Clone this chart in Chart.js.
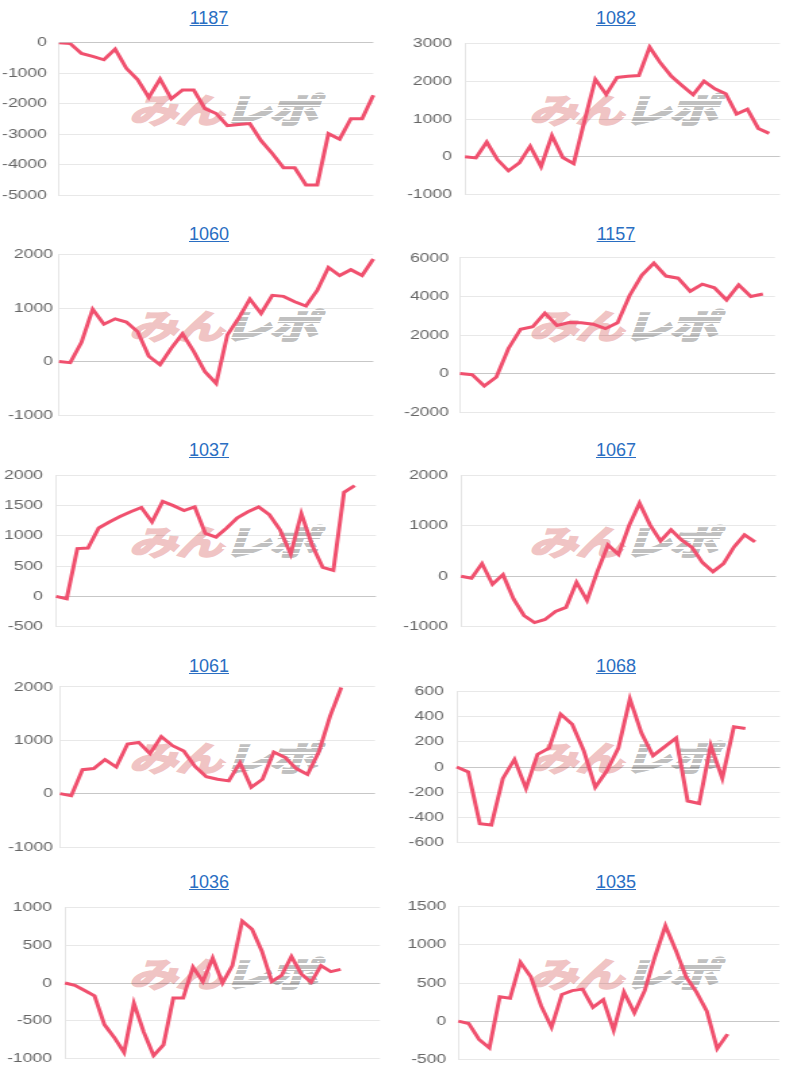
<!DOCTYPE html>
<html>
<head>
<meta charset="utf-8">
<script src="https://cdn.jsdelivr.net/npm/chart.js@4/dist/chart.umd.min.js"></script>
<style>
html,body{margin:0;padding:0;background:#fff;}
#page{position:relative;width:800px;height:1080px;overflow:hidden;background:#fff;}
.title{position:absolute;height:22px;font-family:"Liberation Sans",Arial,sans-serif;font-size:18px;line-height:21px;text-align:center;}
.title a{color:#2a6ec2;text-decoration:underline;}
.wm{position:absolute;width:140px;height:36px;transform-origin:0 0;transform:scaleX(1.42) skewX(-14deg);white-space:nowrap;
  font-family:"Noto Sans CJK JP",sans-serif;font-weight:700;font-size:34px;line-height:36px;letter-spacing:-1px;}
.wm .a{color:rgb(240,196,196);-webkit-text-stroke:2px rgb(240,196,196);}
.wm .b{position:relative;color:rgb(192,192,192);-webkit-text-stroke:2px rgb(192,192,192);}
.wm .b::after{content:'';position:absolute;left:-2px;right:-2px;top:0;bottom:0;
  background:repeating-linear-gradient(to bottom,rgba(255,255,255,0) 0px,rgba(255,255,255,0) 4px,#fff 4px,#fff 5.5px);}
.cw{position:absolute;transform-origin:0 0;}
</style>
</head>
<body>
<div id="page"></div>
<script>
// ---- data ----
const titles = ['1187','1082','1060','1157','1037','1067','1061','1068','1036','1035'];
const labelCounts = [29, 30, 29, 27, 31, 31, 29, 29, 33, 32];

const s1187 = [0,-30,-350,-450,-560,-210,-840,-1210,-1790,-1190,-1840,-1550,-1550,-2160,-2320,-2720,-2680,-2650,-3210,-3630,-4100,-4100,-4660,-4660,-2980,-3160,-2490,-2490,-1720];
const s1082 = [0,-30,390,-80,-370,-160,280,-260,560,-20,-180,950,2050,1650,2100,2130,2150,2900,2480,2130,1880,1640,2000,1800,1670,1130,1260,750,620];
const s1060 = [0,-20,360,980,700,800,740,560,100,-60,250,520,190,-190,-410,500,810,1170,900,1240,1220,1120,1040,1330,1760,1610,1720,1610,1920];
const s1157 = [0,-60,-650,-180,1300,2300,2430,3130,2500,2650,2640,2560,2330,2630,4050,5100,5730,5060,4950,4270,4640,4450,3820,4600,4000,4130];
const s1037 = [0,-40,790,800,1130,1230,1320,1400,1470,1230,1570,1500,1420,1480,1040,980,1130,1300,1400,1480,1350,1100,700,1370,850,480,430,1720,1830];
const s1067 = [0,-40,250,-160,30,-450,-780,-920,-860,-700,-620,-120,-480,100,620,430,1000,1450,1020,700,920,720,570,270,90,250,580,820,680];
const s1061 = [0,-40,450,470,640,500,930,960,750,1070,900,800,510,320,270,240,580,120,270,780,680,470,360,780,1450,1990];
const s1068 = [0,-40,-450,-460,-90,60,-170,100,150,420,340,130,-160,-30,150,540,270,90,160,230,-270,-290,170,-90,320,305];
const s1036 = [0,-30,-100,-170,-550,-720,-920,-270,-650,-960,-820,-200,-200,210,20,330,0,230,820,710,420,20,100,350,120,10,230,150,180];
const s1035 = [0,-30,-240,-350,320,300,770,580,200,-80,350,400,420,180,280,-120,380,110,400,850,1250,930,580,380,130,-360,-170];
const series = [s1187,s1082,s1060,s1157,s1037,s1067,s1061,s1068,s1036,s1035];

// y-axis ticks
const yMin  = [-5000,-1000,-1000,-2000,-500,-1000,-1000,-600,-1000,-500];
const yMax  = [0,3000,2000,6000,2000,2000,2000,600,1000,1500];
const yStep = [1000,1000,1000,2000,500,1000,1000,200,500,500];

// ---- layout (display px, relative to each 400x216 block) ----
const STRETCH = 1.35;
const CANVAS_TOP = 26, CANVAS_H = 186;
// plot left, plot right, plot top, plot bottom, label gap
const geom = [
  [59,373.3,41.7,200,12],
  [65,380,41.7,200,13],
  [59,373.3,38.7,199,6],
  [60,375,41.7,200,11],
  [56,376,41.7,200,13],
  [61,376,40,199,13],
  [60,375,38.7,199,7],
  [56.7,380,41.7,200,13],
  [65,380,40,200,13],
  [58.3,379.3,42,201.7,12]
];
const LINE = 'rgb(240,80,110)';

const page = document.getElementById('page');
series.forEach((data, i) => {
  const col = i % 2, row = Math.floor(i / 2);
  const bx = col * 400, by = row * 216;

  const t = document.createElement('div');
  t.className = 'title';
  t.style.left = (col ? bx + 32 : 18) + 'px';
  t.style.width = (col ? 368 : 382) + 'px';
  t.style.top = (by + 8) + 'px';
  const a = document.createElement('a');
  a.href = '#'; a.textContent = titles[i];
  t.appendChild(a);
  page.appendChild(t);

  const wm = document.createElement('div');
  wm.className = 'wm';
  wm.style.left = (bx + 140) + 'px';
  wm.style.top = (by + 91) + 'px';
  wm.innerHTML = '<span class="a">みん</span><span class="b">レポ</span>';
  page.appendChild(wm);

  const [L, R, T, B, gap] = geom[i];
  const Wc = Math.ceil(R / STRETCH) + 4;
  const wrap = document.createElement('div');
  wrap.className = 'cw';
  wrap.style.left = bx + 'px';
  wrap.style.top = (by + CANVAS_TOP) + 'px';
  wrap.style.width = Wc + 'px';
  wrap.style.height = CANVAS_H + 'px';
  wrap.style.transform = 'scaleX(' + STRETCH + ')';
  const cv = document.createElement('canvas');
  cv.width = Wc; cv.height = CANVAS_H;
  cv.style.width = Wc + 'px'; cv.style.height = CANVAS_H + 'px';
  wrap.appendChild(cv);
  page.appendChild(wrap);

  const labels = Array.from({length: labelCounts[i]}, (_, k) => String(k + 1));

  new Chart(cv, {
    type: 'line',
    data: {
      labels: labels,
      datasets: [{
        data: data,
        borderColor: LINE,
        backgroundColor: LINE,
        borderWidth: 3,
        pointRadius: 0,
        pointHoverRadius: 0,
        fill: false,
        tension: 0
      }]
    },
    options: {
      responsive: false,
      animation: false,
      devicePixelRatio: 1,
      layout: {padding: {left: 0, right: Wc - R / STRETCH, top: T - CANVAS_TOP, bottom: CANVAS_TOP + CANVAS_H - B}},
      plugins: {legend: {display: false}, tooltip: {enabled: false}},
      scales: {
        x: {display: false},
        y: {
          min: yMin[i], max: yMax[i],
          ticks: {
            stepSize: yStep[i],
            padding: gap / STRETCH,
            color: '#666',
            font: {family: '"Liberation Sans", Arial, sans-serif', size: 13},
            callback: v => String(v)
          },
          grid: {
            drawTicks: false,
            color: ctx => (ctx.tick && ctx.tick.value === 0) ? 'rgba(0,0,0,0.22)' : 'rgba(0,0,0,0.09)'
          },
          border: {color: 'rgba(0,0,0,0.1)'},
          afterFit: sc => { sc.width = L / STRETCH; }
        }
      }
    }
  });
});
</script>
</body>
</html>
